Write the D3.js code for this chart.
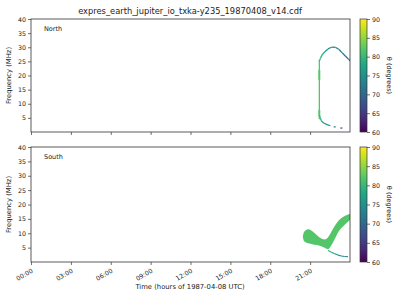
<!DOCTYPE html>
<html>
<head>
<meta charset="utf-8">
<script src="https://cdn.jsdelivr.net/npm/d3@7"></script>
<style>
  body { margin: 0; background: #fff; }
  text { font-family: "DejaVu Sans", sans-serif; fill: #222; }
</style>
</head>
<body>
<div id="chart"></div>
<script>
// ---- data (time in hours UTC, frequency in MHz, theta in degrees) ----
var hourTicks = [0, 3, 6, 9, 12, 15, 18, 21];
var freqTicks = [5, 10, 15, 20, 25, 30, 35, 40];
var thetaTicks = [60, 65, 70, 75, 80, 85, 90];

// North: vertical onset line
var northVertT = 21.69, northVertLo = 4.5, northVertHi = 25.5, northVertTheta = 82;
var northThickLo = [5.5, 18.5], northThickHi = [7.8, 22.0];

// North: upper arc
var northUpperT = [21.69, 21.77, 21.90, 22.10, 22.35, 22.60, 22.90, 23.15, 23.40, 23.65, 23.90, 24.0];
var northUpperF = [25.0, 26.0, 27.3, 28.4, 29.4, 30.0, 30.0, 29.3, 28.1, 26.9, 25.7, 25.2];
var northUpperTheta = [81, 80, 79, 78, 76, 75, 74, 73, 72, 71, 70, 70];

// North: lower tail
var northLowerT = [21.69, 21.77, 21.84, 22.02, 22.27, 22.52];
var northLowerF = [6.0, 5.0, 4.0, 3.2, 2.6, 2.2];
var northLowerTheta = [81, 79, 78, 76, 75, 74];
var northDotT = [22.85, 23.35], northDotF = [1.8, 1.4], northDotTheta = [72, 65];

// South: main emission band (columns)
var southT  = [20.45, 20.55, 20.84, 21.09, 21.35, 21.60, 21.84, 22.10, 22.35, 22.60, 22.85, 23.10, 23.35, 23.60, 23.85, 24.0];
var southLo = [8.8, 7.2, 6.5, 6.3, 6.0, 5.8, 5.5, 5.0, 4.5, 5.8, 8.0, 10.3, 11.8, 13.0, 14.0, 14.6];
var southHi = [8.8, 10.5, 11.4, 11.0, 10.0, 9.0, 8.2, 7.8, 8.6, 10.5, 12.5, 14.2, 15.3, 16.0, 16.5, 16.8];
var southTheta = 82;

// South: low-frequency tail
var southTailT = [22.35, 22.60, 22.85, 23.10, 23.35, 23.60, 23.85];
var southTailF = [4.0, 3.4, 2.9, 2.4, 2.1, 1.9, 1.8];
var southTailTheta = [80, 78, 77, 76, 75, 73, 71];

// ---- layout ----
var width = 400, height = 300;
var plotLeft = 31, plotRight = 350;
var panels = [
  { name: "North", top: 19, bottom: 132, showX: false },
  { name: "South", top: 147, bottom: 262, showX: true }
];
var cbLeft = 360, cbWidth = 7;

var svg = d3.select("#chart").append("svg")
  .attr("width", width)
  .attr("height", height);

svg.append("rect").attr("width", width).attr("height", height).attr("fill", "#fff");

// Title
svg.append("text")
  .attr("x", 190)
  .attr("y", 14)
  .attr("text-anchor", "middle")
  .attr("font-size", "8.3px")
  .text("expres_earth_jupiter_io_txka-y235_19870408_v14.cdf");

var xScale = d3.scaleLinear().domain([0, 24]).range([plotLeft, plotRight]);
var color = d3.scaleSequential(d3.interpolateViridis).domain([60, 90]);

function pad(n) { return (n < 10 ? "0" : "") + n; }

panels.forEach(function(p, i) {
  var yScale = d3.scaleLinear().domain([0, 40]).range([p.bottom, p.top]);
  var g = svg.append("g");

  var clipId = "clip" + i;
  svg.append("clipPath").attr("id", clipId)
    .append("rect")
    .attr("x", plotLeft).attr("y", p.top)
    .attr("width", plotRight - plotLeft).attr("height", p.bottom - p.top);

  var marks = g.append("g").attr("clip-path", "url(#" + clipId + ")");

  if (p.name === "North") {
    // vertical onset line
    marks.append("rect")
      .attr("x", xScale(northVertT) - 0.6)
      .attr("y", yScale(northVertHi))
      .attr("width", 1.3)
      .attr("height", yScale(northVertLo) - yScale(northVertHi))
      .attr("fill", color(northVertTheta));
    northThickLo.forEach(function(lo, k) {
      marks.append("rect")
        .attr("x", xScale(northVertT) - 0.9)
        .attr("y", yScale(northThickHi[k]))
        .attr("width", 1.9)
        .attr("height", yScale(lo) - yScale(northThickHi[k]))
        .attr("fill", color(northVertTheta));
    });

    // arcs as coloured segments
    function segs(ts, fs, th, w) {
      for (var k = 0; k < ts.length - 1; k++) {
        marks.append("line")
          .attr("x1", xScale(ts[k])).attr("y1", yScale(fs[k]))
          .attr("x2", xScale(ts[k + 1])).attr("y2", yScale(fs[k + 1]))
          .attr("stroke", color((th[k] + th[k + 1]) / 2))
          .attr("stroke-width", w);
      }
    }
    segs(northUpperT, northUpperF, northUpperTheta, 1.3);
    segs(northLowerT, northLowerF, northLowerTheta, 1.2);

    northDotT.forEach(function(t, k) {
      marks.append("rect")
        .attr("x", xScale(t) - 1)
        .attr("y", yScale(northDotF[k]) - 0.6)
        .attr("width", 2)
        .attr("height", 1.2)
        .attr("fill", color(northDotTheta[k]));
    });
  } else {
    var cols = southT.map(function(t, k) { return { t: t, lo: southLo[k], hi: southHi[k] }; });
    var area = d3.area()
      .x(function(d) { return xScale(d.t); })
      .y0(function(d) { return yScale(d.lo); })
      .y1(function(d) { return yScale(d.hi); })
      .curve(d3.curveMonotoneX);
    marks.append("path")
      .datum(cols)
      .attr("d", area)
      .attr("fill", color(southTheta));

    for (var k = 0; k < southTailT.length - 1; k++) {
      marks.append("line")
        .attr("x1", xScale(southTailT[k])).attr("y1", yScale(southTailF[k]))
        .attr("x2", xScale(southTailT[k + 1])).attr("y2", yScale(southTailF[k + 1]))
        .attr("stroke", color((southTailTheta[k] + southTailTheta[k + 1]) / 2))
        .attr("stroke-width", 1.1);
    }
  }

  // frame
  g.append("rect")
    .attr("x", plotLeft).attr("y", p.top)
    .attr("width", plotRight - plotLeft).attr("height", p.bottom - p.top)
    .attr("fill", "none").attr("stroke", "#333").attr("stroke-width", 0.8);

  // y axis
  var yAxis = g.append("g")
    .attr("transform", "translate(" + plotLeft + ",0)")
    .call(d3.axisLeft(yScale).tickValues(freqTicks).tickSize(3).tickPadding(2));
  yAxis.select(".domain").remove();
  yAxis.selectAll("line").attr("stroke", "#333").attr("stroke-width", 0.7);
  yAxis.selectAll("text").attr("font-size", "6.3px").attr("fill", "#222")
    .attr("font-family", "DejaVu Sans, sans-serif");

  // x axis
  var xAxis = g.append("g")
    .attr("transform", "translate(0," + p.bottom + ")")
    .call(d3.axisBottom(xScale).tickValues(hourTicks).tickSize(3)
      .tickFormat(function(d) { return p.showX ? pad(d) + ":00" : ""; }));
  xAxis.select(".domain").remove();
  xAxis.selectAll("line").attr("stroke", "#333").attr("stroke-width", 0.7);
  xAxis.selectAll("text")
    .attr("font-size", "6.3px").attr("fill", "#222")
    .attr("font-family", "DejaVu Sans, sans-serif")
    .attr("text-anchor", "end")
    .attr("dy", 0)
    .attr("transform", "translate(2,10) rotate(-30)")
    .attr("y", 0);

  // y label
  g.append("text")
    .attr("transform", "translate(11," + ((p.top + p.bottom) / 2) + ") rotate(-90)")
    .attr("text-anchor", "middle")
    .attr("font-size", "6.8px")
    .text("Frequency (MHz)");

  // panel label
  g.append("text")
    .attr("x", 44).attr("y", p.top + 12)
    .attr("font-size", "6.5px")
    .text(p.name);

  // colorbar
  var gradId = "grad" + i;
  var grad = svg.append("defs").append("linearGradient")
    .attr("id", gradId).attr("x1", 0).attr("y1", 1).attr("x2", 0).attr("y2", 0);
  d3.range(0, 1.0001, 0.1).forEach(function(s) {
    grad.append("stop").attr("offset", s).attr("stop-color", d3.interpolateViridis(s));
  });
  var cbScale = d3.scaleLinear().domain([60, 90]).range([p.bottom, p.top]);
  g.append("rect")
    .attr("x", cbLeft).attr("y", p.top)
    .attr("width", cbWidth).attr("height", p.bottom - p.top)
    .attr("fill", "url(#" + gradId + ")")
    .attr("stroke", "#333").attr("stroke-width", 0.7);
  var cbAxis = g.append("g")
    .attr("transform", "translate(" + (cbLeft + cbWidth) + ",0)")
    .call(d3.axisRight(cbScale).tickValues(thetaTicks).tickSize(3).tickPadding(2));
  cbAxis.select(".domain").remove();
  cbAxis.selectAll("line").attr("stroke", "#333").attr("stroke-width", 0.7);
  cbAxis.selectAll("text").attr("font-size", "6.3px").attr("fill", "#222")
    .attr("font-family", "DejaVu Sans, sans-serif");
  g.append("text")
    .attr("transform", "translate(387," + ((p.top + p.bottom) / 2) + ") rotate(90)")
    .attr("text-anchor", "middle")
    .attr("font-size", "6.5px")
    .text("θ (degrees)");
});

// x label
svg.append("text")
  .attr("x", 190)
  .attr("y", 289)
  .attr("text-anchor", "middle")
  .attr("font-size", "6.8px")
  .text("Time (hours of 1987-04-08 UTC)");
</script>
</body>
</html>
